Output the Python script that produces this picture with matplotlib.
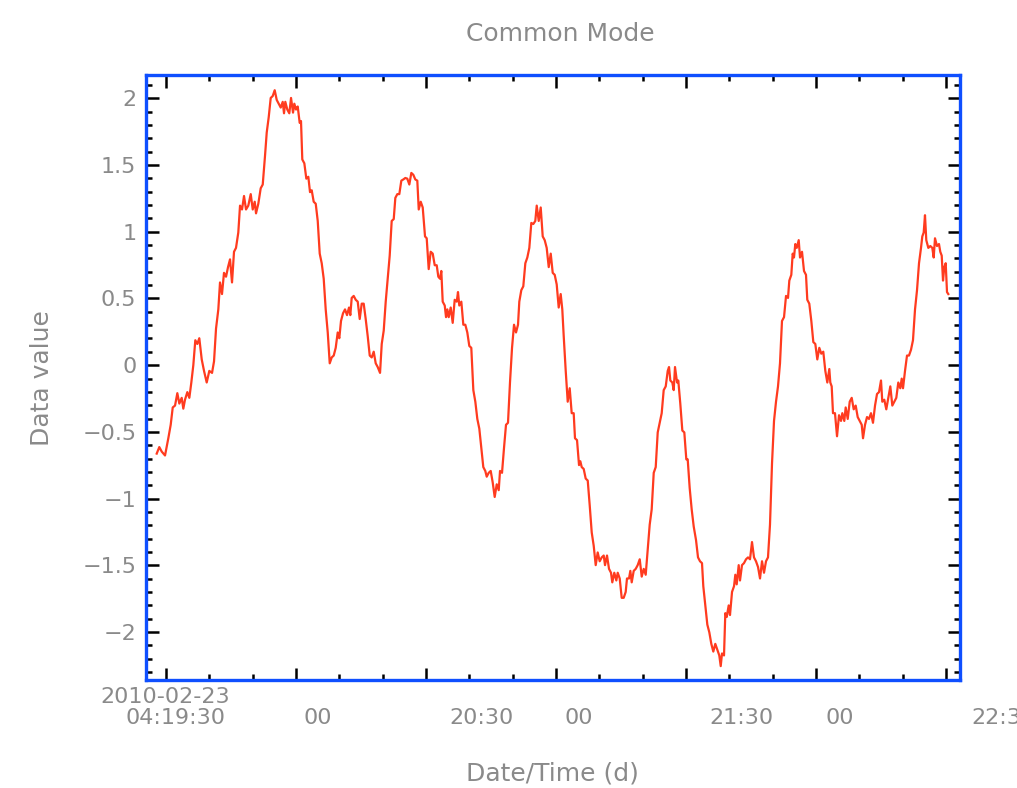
import numpy as np
import matplotlib
matplotlib.use("Agg")
import matplotlib.pyplot as plt
from matplotlib.ticker import MultipleLocator

# Sample times, minutes after the first major tick (04:19:30 label)
t_min = [
    -2.15, -1.55, -0.99, -0.23, 0.53, 1.08, 1.55, 2.08, 2.61, 3.07,
    3.62, 3.99, 4.38, 4.92, 5.38, 5.84, 6.30, 6.76, 7.22, 7.68,
    8.24, 8.77, 9.39, 9.99, 10.62, 11.08, 11.54, 12.07, 12.46, 12.92,
    13.38, 13.85, 14.31, 14.77, 15.23, 15.69, 16.15, 16.68, 17.08, 17.54,
    18.00, 18.46, 18.99, 19.55, 20.01, 20.47, 20.77, 21.30, 21.85, 22.32,
    22.85, 23.24, 23.70, 24.16, 24.62, 25.08, 25.55, 26.01, 26.47, 26.93,
    27.23, 27.53, 27.99, 28.45,
    28.85, 29.31, 29.61, 30.00, 30.39, 30.85, 31.15, 31.45, 31.92, 32.38,
    32.84, 33.23, 33.62, 34.08, 34.55, 35.01, 35.47, 35.93, 36.39, 36.85,
    37.32, 37.78, 38.24, 38.70, 39.16, 39.62, 39.99, 40.38, 40.85, 41.31,
    41.77, 42.23, 42.53, 42.85, 43.31, 43.78, 44.24, 44.70, 45.16, 45.62,
    46.08, 46.55, 47.01, 47.47, 47.93, 48.39, 48.85, 49.39, 49.78, 50.24,
    50.70, 51.16, 51.62, 52.08, 52.55, 52.92, 53.38, 53.84, 54.30, 54.76,
    55.22, 55.68, 56.15, 56.61, 57.07, 57.53, 57.99, 58.32, 58.78, 59.24,
    59.77, 60.16, 60.62, 61.08, 61.55, 62.01, 62.47, 62.84, 63.23, 63.53,
    63.85, 64.32, 64.62, 64.92, 65.24, 65.70, 66.16, 66.62, 67.09, 67.38,
    67.68, 68.15, 68.61, 69.07, 69.53, 69.99, 70.45, 70.92, 71.38, 71.84,
    72.30, 72.76, 73.22, 73.68, 74.01, 74.47, 74.93, 75.39, 75.85, 76.32,
    76.78, 77.08, 77.54, 78.00, 78.46, 78.92, 79.38, 79.85, 80.31, 80.77,
    81.23, 81.53, 81.99, 82.45, 82.92, 83.38, 83.84, 84.30, 84.76, 85.22,
    85.55, 86.01, 86.47, 86.93, 87.39, 87.85, 88.32, 88.78, 89.24, 89.70,
    90.16, 90.62,
    91.08, 91.45, 91.78, 92.24, 92.70, 93.16, 93.62, 94.08, 94.38, 94.85,
    95.31, 95.61, 95.93, 96.39, 96.85, 97.32, 97.78, 98.24, 98.70, 99.16,
    99.62, 100.08, 100.55, 101.01, 101.31, 101.77, 102.23, 102.69, 102.99, 103.45,
    103.92, 104.24, 104.70, 105.16, 105.62, 106.08, 106.38, 106.85, 107.15, 107.47,
    107.93, 108.39, 108.85, 109.32, 109.78, 110.24, 110.70, 111.16, 111.62, 112.08,
    112.55, 113.01, 113.47, 113.93, 114.39, 114.85, 115.32, 115.78, 116.08, 116.38,
    116.84, 117.16, 117.46, 117.93, 118.22, 118.68, 119.15, 119.61, 120.07, 120.39,
    120.85, 121.31, 121.78,
    122.31, 122.77, 123.23, 123.69, 123.99, 124.45, 124.92, 125.38, 125.84, 126.30,
    126.76, 127.22, 127.68, 128.01, 128.31, 128.77, 129.07, 129.39, 129.85, 130.15,
    130.62, 131.08, 131.38, 131.70, 132.16, 132.46, 132.92, 133.38, 133.85, 134.31,
    134.77, 135.23, 135.69, 136.15, 136.62, 137.08, 137.54, 138.00, 138.46, 138.92,
    139.38, 139.85, 140.31, 140.77, 141.23, 141.69, 142.15, 142.62, 143.08, 143.54,
    143.84, 144.30, 144.62, 144.92, 145.22, 145.55, 146.01, 146.31, 146.77, 147.23,
    147.69, 147.99, 148.45, 148.92, 149.38, 149.84, 150.30, 150.76, 151.22, 151.68,
    152.15, 152.61, 153.07,
    153.30, 153.62, 153.92, 154.38, 154.85, 155.31, 155.77, 156.07, 156.53, 156.85,
    157.32, 157.78, 158.24, 158.70, 159.16, 159.62, 160.08, 160.55, 160.85, 161.31,
    161.77, 162.23, 162.69, 163.15, 163.62, 164.08, 164.54, 165.00, 165.30, 165.76,
    166.22, 166.68, 167.15, 167.61, 168.07, 168.53, 168.99, 169.45, 169.78, 170.08,
    170.54, 171.00, 171.46, 171.92, 172.38, 172.85, 173.31, 173.77, 174.23, 174.53,
    174.85, 175.15, 175.45, 175.92, 176.38, 176.84, 177.16, 177.46, 177.92, 178.38,
    178.68, 179.01, 179.31, 179.61, 179.93, 180.23, 180.53,
]

common_mode = [
    -0.663, -0.614, -0.648, -0.677, -0.548, -0.447, -0.317, -0.303, -0.210, -0.288,
    -0.245, -0.326, -0.259, -0.202, -0.245, -0.130, 0.000, 0.187, 0.159, 0.202,
    0.043, -0.043, -0.130, -0.043, -0.058, 0.029, 0.274, 0.418, 0.620, 0.533,
    0.692, 0.663, 0.735, 0.793, 0.620, 0.850, 0.879, 0.994, 1.196, 1.167,
    1.268, 1.167, 1.196, 1.282, 1.167, 1.225, 1.138, 1.210, 1.326, 1.354,
    1.571, 1.744, 1.859, 2.003, 2.017, 2.061, 1.988, 1.960, 1.931, 1.974,
    1.888, 1.974, 1.916, 1.888,
    2.003, 1.893, 1.960, 1.916, 1.939, 1.816, 1.830, 1.542, 1.513, 1.398,
    1.412, 1.297, 1.311, 1.225, 1.210, 1.081, 0.836, 0.764, 0.648, 0.418,
    0.245, 0.014, 0.058, 0.072, 0.130, 0.245, 0.202, 0.331, 0.389, 0.418,
    0.375, 0.432, 0.375, 0.504, 0.519, 0.490, 0.476, 0.346, 0.461, 0.461,
    0.346, 0.216, 0.072, 0.058, 0.101, 0.014, -0.014, -0.058, 0.159, 0.259,
    0.476, 0.648, 0.821, 1.081, 1.095, 1.254, 1.282, 1.282, 1.383, 1.392,
    1.403, 1.398, 1.354, 1.441, 1.427, 1.392, 1.383, 1.167, 1.225, 1.182,
    0.965, 0.951, 0.720, 0.850, 0.836, 0.749, 0.749, 0.663, 0.648, 0.706,
    0.476, 0.447, 0.360, 0.418, 0.360, 0.432, 0.317, 0.490, 0.476, 0.548,
    0.447, 0.476, 0.303, 0.303, 0.245, 0.144, 0.130, -0.187, -0.274, -0.403,
    -0.476, -0.620, -0.764, -0.793, -0.836, -0.807, -0.793, -0.879, -0.988, -0.893,
    -0.937, -0.793, -0.807, -0.620, -0.447, -0.432, -0.130, 0.130, 0.303, 0.245,
    0.303, 0.476, 0.562, 0.591, 0.764, 0.807, 0.879, 1.066, 1.058, 1.081,
    1.196, 1.081, 1.182, 0.965, 0.937, 0.879, 0.735, 0.836, 0.692, 0.677,
    0.605, 0.432,
    0.533, 0.418, 0.216, -0.043, -0.274, -0.173, -0.360, -0.360, -0.548, -0.562,
    -0.749, -0.720, -0.764, -0.778, -0.850, -0.865, -1.052, -1.254, -1.354, -1.499,
    -1.404, -1.470, -1.441, -1.427, -1.499, -1.427, -1.527, -1.556, -1.628, -1.556,
    -1.614, -1.556, -1.599, -1.744, -1.744, -1.700, -1.599, -1.599, -1.542, -1.628,
    -1.542, -1.527, -1.499, -1.455, -1.585, -1.527, -1.571, -1.383, -1.196, -1.081,
    -0.807, -0.764, -0.504, -0.432, -0.360, -0.187, -0.159, -0.043, -0.014, -0.115,
    -0.130, -0.187, -0.014, -0.130, -0.115, -0.288, -0.490, -0.504, -0.706, -0.706,
    -0.922, -1.081, -1.210,
    -1.311, -1.441, -1.470, -1.484, -1.657, -1.801, -1.945, -2.003, -2.089, -2.147,
    -2.089, -2.133, -2.176, -2.256, -2.161, -2.176, -1.859, -1.888, -1.801, -1.873,
    -1.700, -1.657, -1.571, -1.643, -1.499, -1.614, -1.499, -1.484, -1.455, -1.441,
    -1.455, -1.326, -1.441, -1.470, -1.513, -1.599, -1.470, -1.556, -1.470, -1.441,
    -1.196, -0.735, -0.418, -0.274, -0.159, 0.014, 0.331, 0.360, 0.519, 0.504,
    0.634, 0.677, 0.836, 0.807, 0.908, 0.879, 0.937, 0.807, 0.850, 0.706,
    0.677, 0.490, 0.461, 0.331, 0.173, 0.159, 0.043, 0.130, 0.086, 0.101,
    -0.043, -0.130, -0.029,
    -0.130, -0.159, -0.360, -0.360, -0.533, -0.375, -0.418, -0.360, -0.418, -0.317,
    -0.403, -0.274, -0.245, -0.331, -0.303, -0.389, -0.418, -0.447, -0.548, -0.447,
    -0.389, -0.403, -0.360, -0.432, -0.303, -0.216, -0.202, -0.115, -0.274, -0.259,
    -0.331, -0.245, -0.159, -0.303, -0.274, -0.245, -0.130, -0.173, -0.101, -0.173,
    -0.043, 0.072, 0.072, 0.115, 0.187, 0.418, 0.562, 0.764, 0.879, 0.965,
    0.994, 1.124, 0.937, 0.879, 0.893, 0.879, 0.807, 0.951, 0.893, 0.908,
    0.850, 0.821, 0.634, 0.735, 0.764, 0.548, 0.533,
]

# IDL style date labels (they do not sit on the major ticks)
date_label = "2010-02-23"
date_label_pos = -0.2
time_labels = ["04:19:30", "00", "20:30", "00", "21:30", "00", "22:30"]
time_label_pos = [2.3, 35.1, 72.9, 95.3, 132.9, 155.5, 193.2]

assert len(t_min) == len(common_mode)

text_grey = "#8a8a8a"
frame_blue = "#0f4fff"
line_red = "#ff3b1f"

plt.rcParams["font.family"] = ["DejaVu Sans"]

fig = plt.figure(figsize=(10.17, 7.88), dpi=100)
ax = fig.add_axes([146 / 1017, 108 / 788, 814 / 1017, 605 / 788])

ax.plot(t_min, common_mode, color=line_red, lw=1.6)

ax.set_xlim(-4.62, 183.23)
ax.set_ylim(-2.36, 2.175)

# ticks: inward, black, on all four sides
ax.xaxis.set_major_locator(MultipleLocator(30))
ax.xaxis.set_minor_locator(MultipleLocator(10))
ax.yaxis.set_major_locator(MultipleLocator(0.5))
ax.yaxis.set_minor_locator(MultipleLocator(0.1))
ax.tick_params(which="both", direction="in", color="black", width=1.8,
               top=True, right=True)
ax.tick_params(which="major", length=9)
ax.tick_params(which="minor", length=4)
ax.tick_params(axis="x", labelbottom=False)
ax.tick_params(axis="y", labelsize=16, labelcolor=text_grey, pad=7)
ax.set_yticks([-2, -1.5, -1, -0.5, 0, 0.5, 1, 1.5, 2])
ax.set_yticklabels(["\u22122", "\u22121.5", "\u22121", "\u22120.5", "0",
                    "0.5", "1", "1.5", "2"])

for s in ax.spines.values():
    s.set_color(frame_blue)
    s.set_linewidth(2.4)

# date / time labels under the axis
ax.annotate(date_label, xy=(date_label_pos, 0), xycoords=("data", "axes fraction"),
            xytext=(0, -12.5), textcoords="offset points", ha="center", va="center",
            fontsize=16, color=text_grey, annotation_clip=False)
for lab, pos in zip(time_labels, time_label_pos):
    ax.annotate(lab, xy=(pos, 0), xycoords=("data", "axes fraction"),
                xytext=(0, -27.5), textcoords="offset points", ha="center",
                va="center", fontsize=16, color=text_grey, annotation_clip=False)

fig.text(560 / 1017, 1 - 34 / 788, "Common Mode", ha="center", va="center",
         fontsize=18, color=text_grey)
fig.text(552 / 1017, 1 - 773 / 788, "Date/Time (d)", ha="center", va="center",
         fontsize=18, color=text_grey)
fig.text(42 / 1017, 1 - 378 / 788, "Data value", ha="center", va="center",
         rotation=90, fontsize=18, color=text_grey)

fig.savefig("out.png", dpi=100, facecolor="white")
